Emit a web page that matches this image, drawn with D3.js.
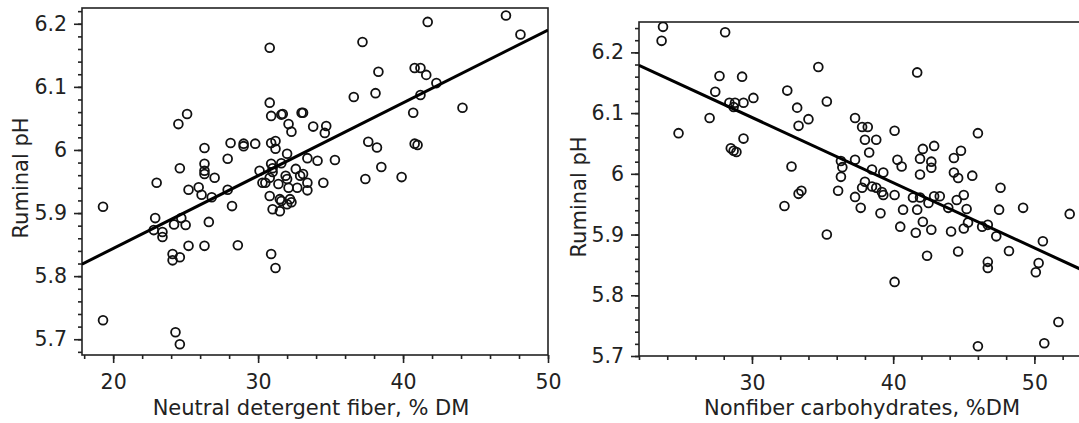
<!DOCTYPE html>
<html>
<head>
<meta charset="utf-8">
<script src="https://cdn.jsdelivr.net/npm/d3@7"></script>
<style>
  body { margin: 0; background: #fff; }
  svg { display: block; }
  text { font-family: "DejaVu Sans", sans-serif; fill: #222; }
</style>
</head>
<body>
<script>
// left panel: neutral detergent fiber (% DM) vs ruminal pH
const ndfPct = [19.3,19.3,23.0,24.5,25.1,24.6,26.3,28.1,29.0,29.0,29.8,27.9,26.3,26.3,26.3,27.0,25.2,25.9,26.1,26.8,
  27.9,28.2,30.1,30.3,22.9,22.8,23.4,23.4,24.2,24.7,25.0,26.6,25.2,26.3,28.6,24.1,24.6,24.1,24.3,24.6,
  30.9,31.2,31.0,30.8,30.9,31.6,31.7,32.1,32.3,33.0,33.1,33.8,34.7,34.6,30.9,31.2,31.2,32.0,33.4,34.1,
  35.3,30.9,31.0,31.0,31.6,30.5,30.8,31.4,31.9,32.0,32.6,32.9,33.1,33.4,32.1,32.7,33.4,34.5,37.4,37.6,
  30.8,31.5,31.6,32.2,32.3,31.5,32.0,30.8,37.2,41.7,47.1,48.1,38.3,40.8,41.2,41.6,42.3,36.6,38.1,41.2,
  40.7,44.1,38.2,40.8,41.0,38.5,39.9];
const ndfPH = [5.910,5.730,5.948,6.041,6.057,5.971,6.003,6.011,6.010,6.006,6.010,5.986,5.978,5.967,5.962,5.956,5.937,5.941,5.929,5.925,
  5.937,5.911,5.967,5.948,5.892,5.873,5.870,5.862,5.882,5.892,5.881,5.886,5.848,5.848,5.849,5.835,5.830,5.825,5.711,5.692,
  5.835,5.813,5.906,6.075,6.054,6.056,6.057,6.041,6.029,6.059,6.059,6.037,6.038,6.027,6.011,6.014,6.002,5.994,5.987,5.983,
  5.984,5.978,5.971,5.965,5.979,5.948,5.956,5.946,5.959,5.954,5.970,5.959,5.962,5.948,5.940,5.940,5.936,5.948,5.954,6.013,
  5.927,5.922,5.919,5.922,5.917,5.903,5.914,6.162,6.171,6.203,6.213,6.183,6.124,6.130,6.130,6.119,6.106,6.084,6.090,6.087,
  6.059,6.067,6.004,6.010,6.008,5.973,5.957];
const ndfFit = { intercept: 5.613, slope: 0.01154 };

// right panel: nonfiber carbohydrates (% DM) vs ruminal pH
const nfcPct = [23.7,23.6,28.1,27.7,29.3,27.4,28.4,28.8,28.7,29.4,30.1,27.0,24.8,29.4,28.5,28.7,28.9,34.7,32.5,35.3,
  33.2,34.0,33.3,32.8,33.5,33.3,32.3,35.3,36.3,36.4,36.3,36.1,41.7,37.3,37.8,38.2,38.0,38.8,38.3,40.1,
  46.0,37.3,38.5,39.3,40.3,40.6,41.9,42.1,42.9,41.9,42.7,42.7,44.3,44.8,44.3,44.6,45.6,38.0,37.8,38.5,
  38.8,39.2,39.3,37.3,37.7,39.1,40.1,40.7,41.4,41.9,41.7,42.5,42.9,43.3,42.1,40.5,41.6,42.7,42.4,40.1,
  43.9,44.5,45.0,45.2,45.3,45.0,44.1,44.6,46.3,46.7,47.3,47.6,47.5,49.2,52.5,48.2,46.7,46.7,50.6,50.3,
  50.1,51.7,46.0,50.7];
const nfcPH = [6.242,6.219,6.233,6.161,6.160,6.135,6.117,6.117,6.110,6.117,6.125,6.092,6.067,6.058,6.042,6.038,6.036,6.176,6.137,6.119,
  6.109,6.090,6.079,6.012,5.972,5.967,5.947,5.900,6.021,6.011,5.995,5.972,6.167,6.092,6.077,6.077,6.056,6.056,6.035,6.071,
  6.067,6.023,6.007,6.002,6.023,6.012,5.999,6.041,6.046,6.025,6.020,6.010,6.026,6.038,6.002,5.993,5.997,5.987,5.977,5.979,
  5.977,5.970,5.965,5.962,5.944,5.935,5.965,5.941,5.961,5.961,5.941,5.952,5.963,5.963,5.921,5.913,5.903,5.908,5.865,5.822,
  5.944,5.957,5.965,5.942,5.920,5.910,5.905,5.872,5.913,5.916,5.897,5.977,5.941,5.944,5.934,5.873,5.855,5.845,5.889,5.853,
  5.838,5.756,5.716,5.721];
const nfcFit = { intercept: 6.415, slope: -0.01074 };

const phTicks = [5.7, 5.8, 5.9, 6.0, 6.1, 6.2];
const phMinor = d3.range(5.68, 6.241, 0.02);
const ndfTicks = [20, 30, 40, 50];
const nfcTicks = [30, 40, 50];
const pctMinor = d3.range(18, 57, 2);

const W = 1079, H = 423;
const svg = d3.select("body").append("svg").attr("width", W).attr("height", H);

function panel(cfg) {
  const x = d3.scaleLinear().domain(cfg.xDomain).range(cfg.xRange);
  const y = d3.scaleLinear().domain(cfg.yDomain).range(cfg.yRange);
  const g = svg.append("g");
  const [x0, x1] = cfg.xRange, [y1, y0] = cfg.yRange;

  const clipId = "clip" + cfg.id;
  svg.append("clipPath").attr("id", clipId)
    .append("rect").attr("x", x0).attr("y", y0).attr("width", x1 - x0).attr("height", y1 - y0);

  // frame
  g.append("rect")
    .attr("x", x0).attr("y", y0).attr("width", x1 - x0).attr("height", y1 - y0)
    .attr("fill", "none").attr("stroke", "#222").attr("stroke-width", 1.6);

  // points
  const pts = cfg.xs.map((v, i) => [v, cfg.ys[i]]);
  g.append("g").attr("clip-path", `url(#${clipId})`)
    .selectAll("circle").data(pts).join("circle")
    .attr("cx", d => x(d[0])).attr("cy", d => y(d[1])).attr("r", 4.4)
    .attr("fill", "none").attr("stroke", "#111").attr("stroke-width", 1.8);

  // regression line
  const fx = v => cfg.fit.intercept + cfg.fit.slope * v;
  g.append("line").attr("clip-path", `url(#${clipId})`)
    .attr("x1", x(cfg.xDomain[0])).attr("y1", y(fx(cfg.xDomain[0])))
    .attr("x2", x(cfg.xDomain[1])).attr("y2", y(fx(cfg.xDomain[1])))
    .attr("stroke", "#000").attr("stroke-width", 3);

  // axes
  const inX = v => v >= cfg.xDomain[0] - 1e-6 && v <= cfg.xDomain[1] + 1e-6;
  const inY = v => v >= cfg.yDomain[0] - 1e-6 && v <= cfg.yDomain[1] + 1e-6;
  const styleAxis = a => {
    a.select(".domain").remove();
    a.selectAll("line").attr("stroke", "#222").attr("stroke-width", 1.6);
    a.selectAll("text").attr("font-size", 20.5).attr("fill", "#222")
      .attr("font-family", "DejaVu Sans, sans-serif");
  };
  g.append("g").attr("transform", `translate(0,${y1})`)
    .call(d3.axisBottom(x).tickValues(pctMinor.filter(inX)).tickSize(4).tickFormat(""))
    .call(styleAxis);
  g.append("g").attr("transform", `translate(0,${y1})`)
    .call(d3.axisBottom(x).tickValues(cfg.xTicks).tickSize(8).tickPadding(11).tickFormat(d3.format("d")))
    .call(styleAxis);
  g.append("g").attr("transform", `translate(${x0},0)`)
    .call(d3.axisLeft(y).tickValues(phMinor.filter(inY)).tickSize(4).tickFormat(""))
    .call(styleAxis);
  g.append("g").attr("transform", `translate(${x0},0)`)
    .call(d3.axisLeft(y).tickValues(phTicks.filter(inY)).tickSize(8).tickPadding(7).tickFormat(d => d3.format("")(+d.toFixed(1))))
    .call(styleAxis);

  // titles
  g.append("text").attr("x", cfg.xTitlePos[0]).attr("y", cfg.xTitlePos[1])
    .attr("text-anchor", "middle").attr("font-size", 21).text(cfg.xTitle);
  g.append("text")
    .attr("transform", `translate(${cfg.yTitlePos[0]},${cfg.yTitlePos[1]}) rotate(-90)`)
    .attr("text-anchor", "middle").attr("font-size", 21).text("Ruminal pH");
}

panel({
  id: "ndf", xs: ndfPct, ys: ndfPH, fit: ndfFit,
  xDomain: [17.85, 50], xRange: [82, 548],
  yDomain: [5.675, 6.225], yRange: [355, 8],
  xTicks: ndfTicks,
  xTitle: "Neutral detergent fiber, % DM", xTitlePos: [311, 415],
  yTitlePos: [28, 178]
});

panel({
  id: "nfc", xs: nfcPct, ys: nfcPH, fit: nfcFit,
  xDomain: [22, 55], xRange: [639, 1105],
  yDomain: [5.7, 6.25], yRange: [356, 22],
  xTicks: nfcTicks,
  xTitle: "Nonfiber carbohydrates, %DM", xTitlePos: [862, 415],
  yTitlePos: [586, 197]
});
</script>
</body>
</html>
